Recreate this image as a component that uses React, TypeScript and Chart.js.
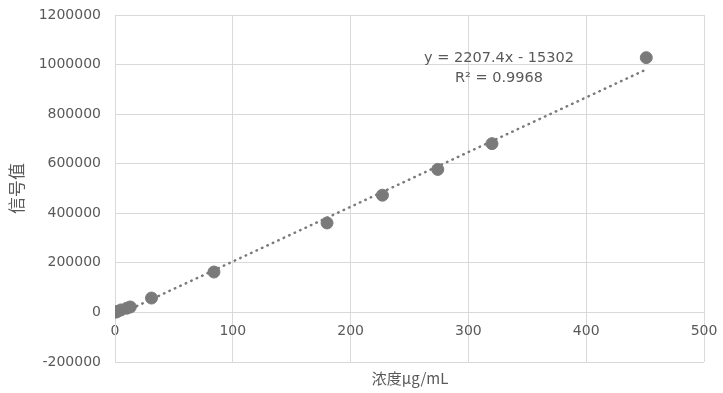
import React, { useEffect, useRef } from "react";
import { Chart, registerables } from "chart.js";

Chart.register(...registerables);

const concentrations = [0.5, 2, 5, 10, 13, 31, 84, 180, 227, 274, 320, 451];
const signals = [1000, 4000, 10000, 17000, 22000, 58000, 163000, 361000, 473000, 577000, 681000, 1028000];
const slope = 2207.4;
const intercept = -15302;
const trendX = [0, 451];
const equationText = "y = 2207.4x - 15302";
const r2Text = "R² = 0.9968";
const xTitle = "浓度μg/mL";
const yTitle = "信号值";

const FONT = "'DejaVu Sans', 'Noto Sans CJK SC', sans-serif";
const CJK = "'Noto Sans CJK SC', 'DejaVu Sans', sans-serif";

export default function App() {
  const ref = useRef<HTMLCanvasElement | null>(null);
  useEffect(() => {
    document.body.style.margin = "0";
    const textPlugin = {
      id: "texts",
      afterDraw(chart: any) {
        const ctx = chart.ctx;
        const xs = chart.scales.x;
        const ys = chart.scales.y;
        ctx.save();
        ctx.fillStyle = "#595959";
        ctx.textAlign = "center";
        ctx.textBaseline = "middle";
        ctx.font = `14.5px ${FONT}`;
        const ex = xs.getPixelForValue(326);
        ctx.fillText(equationText, ex, ys.getPixelForValue(1027000));
        ctx.fillText(r2Text, ex, ys.getPixelForValue(945000));
        ctx.font = `15px ${CJK}`;
        ctx.fillText(xTitle, 410, 378);
        ctx.restore();
      },
    };
    const zeroPad = (scale: any) => {
      scale.paddingTop = 0;
      scale.paddingBottom = 0;
      scale.paddingLeft = 0;
      scale.paddingRight = 0;
    };
    const chart = new Chart(ref.current!, {
      type: "scatter",
      data: {
        datasets: [
          {
            label: "data",
            data: concentrations.map((x, i) => ({ x, y: signals[i] })),
            backgroundColor: "#7a7a7a",
            borderColor: "#7a7a7a",
            pointRadius: 6,
            pointHoverRadius: 6,
            order: 1,
          },
          {
            type: "line" as any,
            label: "trend",
            data: trendX.map((x) => ({ x, y: slope * x + intercept })),
            borderColor: "#7a7a7a",
            borderWidth: 2.5,
            borderDash: [0.5, 5.5],
            borderCapStyle: "round",
            pointRadius: 0,
            fill: false,
            order: 0,
          } as any,
        ],
      },
      options: {
        animation: false,
        responsive: false,
        maintainAspectRatio: false,
        layout: { padding: { top: 15, right: 19, bottom: 31, left: 0 } },
        plugins: { legend: { display: false }, tooltip: { enabled: false } },
        scales: {
          x: {
            type: "linear",
            position: { y: 0 } as any,
            min: 0,
            max: 500,
            ticks: { stepSize: 100, color: "#595959", font: { family: FONT, size: 14 }, padding: 11, callback: (v: any) => String(v) },
            grid: { color: "#d9d9d9", lineWidth: 1, drawTicks: false },
            border: { display: true, color: "#d9d9d9" },
            afterFit: zeroPad,
          },
          y: {
            type: "linear",
            min: -200000,
            max: 1200000,
            ticks: { stepSize: 200000, color: "#595959", font: { family: FONT, size: 14 }, padding: 14, callback: (v: any) => String(v) },
            grid: { color: "#d9d9d9", lineWidth: 1, drawTicks: false },
            border: { display: true, color: "#d9d9d9" },
            title: {
              display: true,
              text: yTitle,
              color: "#595959",
              font: { family: CJK, size: 17 },
              padding: { top: 6, bottom: 0 },
            },
            afterFit: (scale: any) => {
              zeroPad(scale);
              scale.width = 115;
            },
          },
        },
      },
      plugins: [textPlugin],
    });
    return () => chart.destroy();
  }, []);
  return (
    <div style={{ position: "absolute", left: 0, top: 0, width: 723, height: 393, background: "#fff" }}>
      <canvas ref={ref} width={723} height={393} style={{ width: 723, height: 393 }} />
    </div>
  );
}
